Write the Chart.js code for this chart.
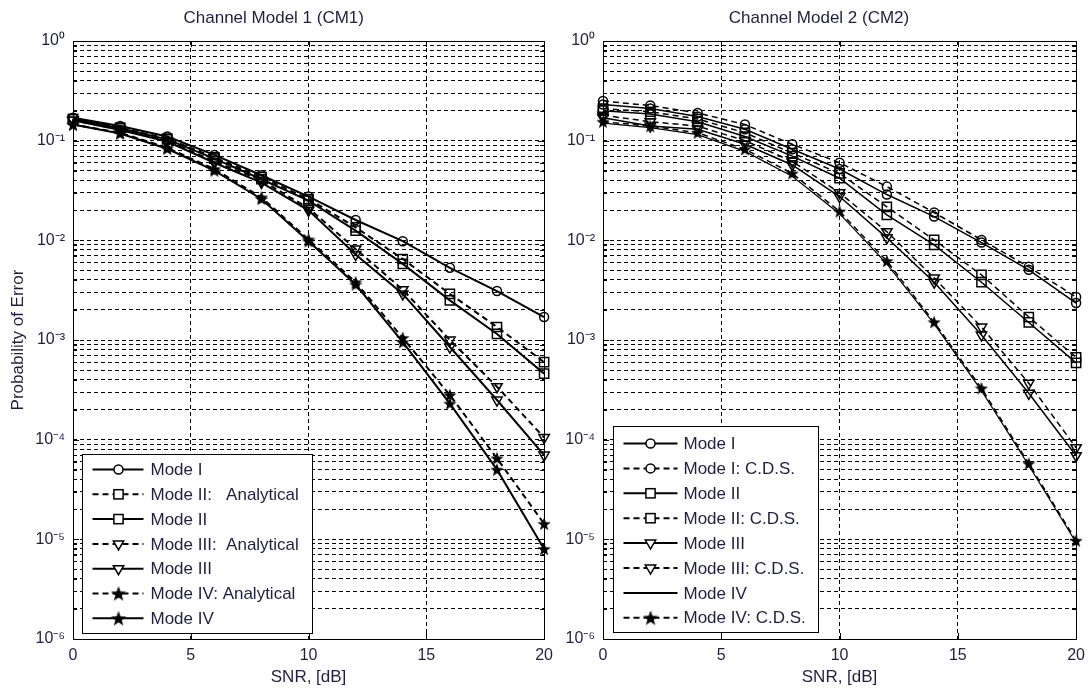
<!DOCTYPE html>
<html><head><meta charset="utf-8">
<script src="https://cdn.jsdelivr.net/npm/chart.js@4.4.0/dist/chart.umd.min.js"></script>
<style>
html,body{margin:0;padding:0;background:#fff;width:1092px;height:689px;overflow:hidden}
canvas{position:absolute;top:0}
#c1{left:0}
#c2{left:560px}
</style></head><body>
<canvas id="c1" width="560" height="689"></canvas>
<canvas id="c2" width="532" height="689"></canvas>
<script>
// ---------- data ----------
const snr = [0, 2, 4, 6, 8, 10, 12, 14, 16, 18, 20];
const xTickValues = [0, 5, 10, 15, 20];
const yDecadeValues = [1, 1e-1, 1e-2, 1e-3, 1e-4, 1e-5, 1e-6];
const yTickLabels = ['10⁰', '10⁻¹', '10⁻²', '10⁻³', '10⁻⁴', '10⁻⁵', '10⁻⁶'];
const yMinorMultipliers = [2, 3, 4, 5, 6, 7, 8, 9];

const chartTitles = ['Channel Model 1 (CM1)', 'Channel Model 2 (CM2)'];
const xAxisTitle = 'SNR, [dB]';
const yAxisTitle = 'Probability of Error';

// CM1
const cm1Labels = ['Mode I', 'Mode II:   Analytical', 'Mode II', 'Mode III:  Analytical', 'Mode III', 'Mode IV: Analytical', 'Mode IV'];
const cm1ModeI        = [0.17, 0.14, 0.11, 0.072, 0.045, 0.0275, 0.016, 0.0098, 0.0053, 0.0031, 0.0017];
const cm1ModeIIAnal   = [0.165, 0.135, 0.105, 0.068, 0.043, 0.026, 0.0135, 0.0065, 0.0029, 0.00135, 0.0006];
const cm1ModeII       = [0.165, 0.133, 0.103, 0.066, 0.041, 0.025, 0.0125, 0.0058, 0.0025, 0.00115, 0.00046];
const cm1ModeIIIAnal  = [0.16, 0.13, 0.10, 0.062, 0.040, 0.021, 0.0082, 0.0032, 0.0010, 0.00034, 0.000105];
const cm1ModeIII      = [0.16, 0.128, 0.098, 0.060, 0.038, 0.020, 0.0072, 0.0029, 0.00085, 0.00025, 0.00007];
const cm1ModeIVAnal   = [0.145, 0.12, 0.085, 0.052, 0.027, 0.0102, 0.0038, 0.00105, 0.00028, 0.000065, 0.0000143];
const cm1ModeIV       = [0.145, 0.118, 0.083, 0.050, 0.026, 0.0098, 0.0036, 0.00095, 0.00023, 0.00005, 0.000008];

// CM2
const cm2Labels = ['Mode I', 'Mode I: C.D.S.', 'Mode II', 'Mode II: C.D.S.', 'Mode III', 'Mode III: C.D.S.', 'Mode IV', 'Mode IV: C.D.S.'];
const cm2ModeI        = [0.23, 0.21, 0.175, 0.13, 0.082, 0.052, 0.0288, 0.0173, 0.0095, 0.00506, 0.00235];
const cm2ModeICDS     = [0.25, 0.225, 0.19, 0.145, 0.092, 0.060, 0.0346, 0.019, 0.0101, 0.00542, 0.0027];
const cm2ModeII       = [0.20, 0.185, 0.155, 0.11, 0.070, 0.042, 0.018, 0.009, 0.0038, 0.0015, 0.00059];
const cm2ModeIICDS    = [0.21, 0.195, 0.165, 0.12, 0.075, 0.047, 0.0217, 0.0101, 0.0045, 0.0017, 0.00067];
const cm2ModeIII      = [0.17, 0.14, 0.13, 0.092, 0.057, 0.0275, 0.0106, 0.0038, 0.00112, 0.000292, 0.000069];
const cm2ModeIIICDS   = [0.18, 0.155, 0.14, 0.10, 0.062, 0.030, 0.0122, 0.0042, 0.00135, 0.000368, 0.000083];
const cm2ModeIV       = [0.15, 0.135, 0.115, 0.078, 0.044, 0.0185, 0.0058, 0.00145, 0.00031, 0.000055, 0.0000093];
const cm2ModeIVCDS    = [0.155, 0.14, 0.12, 0.082, 0.047, 0.0195, 0.0062, 0.00151, 0.000328, 0.0000575, 0.0000097];

// ---------- styles ----------
const TEXT = '#1f1f3f';
const FONT = "'Liberation Sans', Arial, sans-serif";

function makeStar(size) {
  const c = document.createElement('canvas');
  c.width = size; c.height = size;
  const g = c.getContext('2d');
  const cx = size / 2, cy = size / 2 + 0.6, R = size / 2, r = R * 0.42;
  g.beginPath();
  for (let i = 0; i < 10; i++) {
    const a = -Math.PI / 2 + i * Math.PI / 5;
    const rad = i % 2 ? r : R;
    g.lineTo(cx + rad * Math.cos(a), cy + rad * Math.sin(a));
  }
  g.closePath();
  g.fillStyle = '#000'; g.fill();
  return c;
}
const starImg = makeStar(14);

function markerProps(m) {
  switch (m) {
    case 'circle': return {pointStyle: 'circle', pointRadius: 4.5, pointRotation: 0};
    case 'square': return {pointStyle: 'rect', pointRadius: 6.5, pointRotation: 0};
    case 'tri':    return {pointStyle: 'triangle', pointRadius: 6, pointRotation: 180};
    case 'star':   return {pointStyle: starImg, pointRadius: 7, pointRotation: 0};
    default:       return {pointStyle: 'circle', pointRadius: 0, pointRotation: 0};
  }
}

function ds(label, vals, dashed, marker, lw) {
  return Object.assign({
    label,
    data: snr.map((x, i) => ({x, y: vals[i]})),
    borderColor: '#000',
    borderWidth: lw,
    borderDash: dashed ? [6, 4] : [],
    pointBorderColor: '#000',
    pointBackgroundColor: 'rgba(0,0,0,0)',
    pointBorderWidth: 1.5,
    pointHoverRadius: 0,
    tension: 0,
    fill: false,
    clip: false,
    _marker: marker,
    _dashed: dashed
  }, markerProps(marker));
}

function yTicks() {
  const t = [];
  yDecadeValues.forEach(d => {
    t.push(d);
    if (d < 1) yMinorMultipliers.forEach(m => t.push(+(d * m).toPrecision(3)));
  });
  return t.sort((a, b) => a - b);
}

function drawLegendMarker(ctx, m, x, y) {
  ctx.save();
  ctx.setLineDash([]);
  ctx.lineWidth = 1.5;
  ctx.strokeStyle = '#000';
  ctx.fillStyle = '#fff';
  if (m === 'circle') {
    ctx.beginPath(); ctx.arc(x, y, 4.5, 0, Math.PI * 2); ctx.fill(); ctx.stroke();
  } else if (m === 'square') {
    ctx.fillRect(x - 4.6, y - 4.6, 9.2, 9.2); ctx.strokeRect(x - 4.6, y - 4.6, 9.2, 9.2);
  } else if (m === 'tri') {
    const r = 6;
    ctx.beginPath();
    ctx.moveTo(x - r * 0.866, y - r * 0.5);
    ctx.lineTo(x + r * 0.866, y - r * 0.5);
    ctx.lineTo(x, y + r);
    ctx.closePath(); ctx.fill(); ctx.stroke();
  } else if (m === 'star') {
    ctx.drawImage(starImg, x - 8, y - 8, 16, 16);
  }
  ctx.restore();
}

const framePlugin = {
  id: 'mframe',
  afterDatasetsDraw(chart) {
    const {ctx, chartArea: ca, scales} = chart;
    ctx.save();
    ctx.strokeStyle = '#000';
    ctx.lineWidth = 1;
    ctx.setLineDash([]);
    ctx.strokeRect(Math.round(ca.left) + 0.5, Math.round(ca.top) + 0.5, Math.round(ca.right - ca.left), Math.round(ca.bottom - ca.top));
    ctx.beginPath();
    scales.y.ticks.forEach(t => {
      const py = Math.round(scales.y.getPixelForValue(t.value)) + 0.5;
      const len = yDecadeValues.includes(t.value) ? 6 : 4;
      ctx.moveTo(ca.left, py); ctx.lineTo(ca.left + len, py);
      ctx.moveTo(ca.right, py); ctx.lineTo(ca.right - len, py);
    });
    scales.x.ticks.forEach(t => {
      const px = Math.round(scales.x.getPixelForValue(t.value)) + 0.5;
      ctx.moveTo(px, ca.bottom); ctx.lineTo(px, ca.bottom - 6);
      ctx.moveTo(px, ca.top); ctx.lineTo(px, ca.top + 6);
    });
    ctx.stroke();
    ctx.restore();
  }
};

const legendPlugin = {
  id: 'mlegend',
  afterDraw(chart, args, o) {
    const {ctx, chartArea: ca} = chart;
    const x0 = Math.round(ca.left + o.dx) + 0.5;
    const y0 = Math.round(ca.bottom - o.dy - o.h) + 0.5;
    ctx.save();
    ctx.fillStyle = '#fff';
    ctx.fillRect(x0, y0, o.w, o.h);
    ctx.strokeStyle = '#000'; ctx.lineWidth = 1; ctx.setLineDash([]);
    ctx.strokeRect(x0, y0, o.w, o.h);
    chart.data.datasets.forEach((d, i) => {
      const y = y0 + o.first + i * o.step;
      ctx.save();
      ctx.strokeStyle = '#000';
      ctx.lineWidth = 2;
      ctx.setLineDash(d._dashed ? [6, 4] : []);
      ctx.beginPath(); ctx.moveTo(x0 + o.l1, y); ctx.lineTo(x0 + o.l2, y); ctx.stroke();
      ctx.restore();
      drawLegendMarker(ctx, d._marker, x0 + o.m, y);
      ctx.fillStyle = TEXT;
      ctx.font = '17px ' + FONT;
      ctx.textBaseline = 'middle';
      ctx.textAlign = 'left';
      ctx.fillText(d.label, x0 + o.tx, y + 1);
    });
    ctx.restore();
  }
};

function makeChart(id, datasets, title, yW, padRight, showYTitle, legendOpts) {
  const tickVals = yTicks();
  return new Chart(document.getElementById(id), {
    type: 'line',
    data: {datasets},
    plugins: [framePlugin, legendPlugin],
    options: {
      responsive: false,
      animation: false,
      devicePixelRatio: 1,
      layout: {padding: {left: 0, right: padRight, top: 0, bottom: 0}},
      plugins: {
        legend: {display: false},
        tooltip: {enabled: false},
        title: {display: true, text: title, color: TEXT, font: {family: FONT, size: 17, weight: 'normal'}, padding: {top: 8, bottom: 12.6}},
        mlegend: legendOpts
      },
      scales: {
        x: {
          type: 'linear', min: 0, max: 20,
          afterBuildTicks: s => { s.ticks = xTickValues.map(v => ({value: v})); },
          afterFit: s => { s.height = 50; },
          ticks: {color: TEXT, font: {family: FONT, size: 16}, padding: 7, maxRotation: 0, autoSkip: false},
          grid: {color: '#000', lineWidth: 1, drawTicks: false},
          border: {display: false, dash: [4, 3]},
          title: {display: true, text: xAxisTitle, color: TEXT, font: {family: FONT, size: 17}, padding: {top: 0, bottom: 1}}
        },
        y: {
          type: 'logarithmic', min: 1e-6, max: 1,
          afterBuildTicks: s => { s.ticks = tickVals.map(v => ({value: v})); },
          afterFit: s => { s.width = yW; },
          ticks: {
            color: TEXT, font: {family: FONT, size: 16}, padding: 8, autoSkip: false,
            callback: v => { const i = yDecadeValues.indexOf(v); return i >= 0 ? yTickLabels[i] : ''; }
          },
          grid: {color: '#000', lineWidth: 1, drawTicks: false},
          border: {display: false, dash: [4, 3]},
          title: {display: showYTitle, text: yAxisTitle, color: TEXT, font: {family: FONT, size: 17}, padding: {top: 8, bottom: 0}}
        }
      }
    }
  });
}

const lw1 = 2, lw2 = 1.5;
makeChart('c1', [
  ds(cm1Labels[0], cm1ModeI, false, 'circle', lw1),
  ds(cm1Labels[1], cm1ModeIIAnal, true, 'square', lw1),
  ds(cm1Labels[2], cm1ModeII, false, 'square', lw1),
  ds(cm1Labels[3], cm1ModeIIIAnal, true, 'tri', lw1),
  ds(cm1Labels[4], cm1ModeIII, false, 'tri', lw1),
  ds(cm1Labels[5], cm1ModeIVAnal, true, 'star', lw1),
  ds(cm1Labels[6], cm1ModeIV, false, 'star', lw1)
], chartTitles[0], 73, 12.5, true,
  {dx: 9, dy: 6, w: 230, h: 179, first: 15, step: 24.8, l1: 10, l2: 61, m: 36, tx: 68});

makeChart('c2', [
  ds(cm2Labels[0], cm2ModeI, false, 'circle', lw2),
  ds(cm2Labels[1], cm2ModeICDS, true, 'circle', lw2),
  ds(cm2Labels[2], cm2ModeII, false, 'square', lw2),
  ds(cm2Labels[3], cm2ModeIICDS, true, 'square', lw2),
  ds(cm2Labels[4], cm2ModeIII, false, 'tri', lw2),
  ds(cm2Labels[5], cm2ModeIIICDS, true, 'tri', lw2),
  ds(cm2Labels[6], cm2ModeIV, false, 'none', 1.2),
  ds(cm2Labels[7], cm2ModeIVCDS, true, 'star', lw2)
], chartTitles[1], 43, 14, false,
  {dx: 10, dy: 7, w: 205, h: 206, first: 17, step: 24.9, l1: 10, l2: 64, m: 37, tx: 70});
</script>
</body></html>
